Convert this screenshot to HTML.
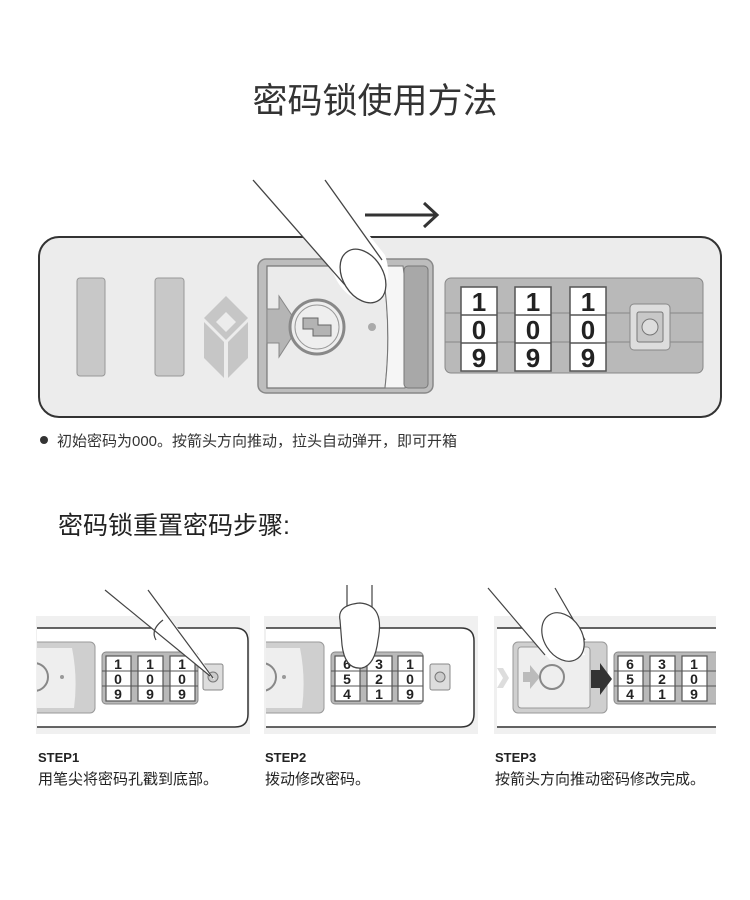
<!DOCTYPE html>
<html><head><meta charset="utf-8"><style>
html,body{margin:0;padding:0;background:#fff;}
svg{display:block}
text{font-family:"Liberation Sans","Noto Sans CJK SC",sans-serif;}
</style></head><body>
<svg width="750" height="900" viewBox="0 0 750 900" xmlns="http://www.w3.org/2000/svg">
<defs>
<g id="wheel">
<rect x="0" y="0" width="36" height="84" fill="#fff" stroke="#555" stroke-width="1.5"/>
<line x1="0" y1="28" x2="36" y2="28" stroke="#555" stroke-width="1.5"/>
<line x1="0" y1="56" x2="36" y2="56" stroke="#555" stroke-width="1.5"/>
</g>
<clipPath id="c1"><rect x="37" y="600" width="215" height="140"/></clipPath>
<clipPath id="c2"><rect x="266" y="600" width="212" height="140"/></clipPath>
<clipPath id="c3"><rect x="497" y="600" width="219" height="140"/></clipPath>
</defs>
<text x="375" y="113" text-anchor="middle" font-size="35" fill="#333">密码锁使用方法</text>

<line x1="365" y1="215" x2="436" y2="215" stroke="#333" stroke-width="3"/>
<polyline points="424,203 437,215 424,227" fill="none" stroke="#333" stroke-width="3"/>

<rect x="39" y="237" width="682" height="180" rx="20" fill="#ececec" stroke="#333" stroke-width="2"/>
<rect x="77" y="278" width="28" height="98" rx="3" fill="#c8c8c8" stroke="#999"/>
<rect x="155" y="278" width="29" height="98" rx="3" fill="#c8c8c8" stroke="#999"/>
<polygon points="226,296 248,318 226,340 204,318" fill="#c6c6c6"/>
<polygon points="226,312 236,322 226,332 216,322" fill="#ececec"/>
<polygon points="204,322 224,342 224,378 204,358" fill="#c6c6c6"/>
<polygon points="248,322 228,342 228,378 248,358" fill="#c6c6c6"/>

<rect x="258" y="259" width="175" height="134" rx="8" fill="#bdbdbd" stroke="#888" stroke-width="1.5"/>
<path d="M267,266 H382 Q392,327 385,388 H267 Z" fill="#ebebeb" stroke="#777" stroke-width="1.2"/>
<path d="M382,266 H403 Q412,327 405,388 H385 Q392,327 382,266 Z" fill="#f6f6f6" stroke="#777" stroke-width="1"/>
<rect x="404" y="266" width="24" height="122" rx="4" fill="#a8a8a8" stroke="#777"/>
<polygon points="267,309 279,309 279,296 299,326 279,357 279,343 267,343" fill="#b5b5b5" stroke="#888"/>
<circle cx="317" cy="327" r="27" fill="#eee" stroke="#888" stroke-width="3"/>
<circle cx="317" cy="327" r="22" fill="none" stroke="#999" stroke-width="1"/>
<path d="M303,318 H318 V325 H331 V336 H313 V329 H303 Z" fill="#b3b3b3" stroke="#666"/>
<circle cx="372" cy="327" r="4" fill="#aaa"/>

<path d="M253,180 L332,270 Q345,305 375,300 Q395,285 385,255 L325,180 Z" fill="#fff"/>
<line x1="253" y1="180" x2="345" y2="285" stroke="#444" stroke-width="1.3"/>
<line x1="325" y1="180" x2="382" y2="260" stroke="#444" stroke-width="1.3"/>
<ellipse cx="363" cy="276" rx="20" ry="29" transform="rotate(-32 363 276)" fill="#fff" stroke="#444" stroke-width="1.3"/>

<rect x="445" y="278" width="258" height="95" rx="6" fill="#b9b9b9" stroke="#888"/>
<line x1="445" y1="313" x2="703" y2="313" stroke="#888"/>
<line x1="445" y1="342" x2="703" y2="342" stroke="#888"/>
<use href="#wheel" x="461" y="287"/>
<use href="#wheel" x="515" y="287"/>
<use href="#wheel" x="570" y="287"/>
<g font-size="26" font-weight="bold" fill="#222" text-anchor="middle">
<text x="479" y="311">1</text><text x="533" y="311">1</text><text x="588" y="311">1</text>
<text x="479" y="339">0</text><text x="533" y="339">0</text><text x="588" y="339">0</text>
<text x="479" y="367">9</text><text x="533" y="367">9</text><text x="588" y="367">9</text>
</g>
<rect x="630" y="304" width="40" height="46" rx="4" fill="#ddd" stroke="#888"/>
<rect x="637" y="312" width="26" height="30" rx="2" fill="#c8c8c8" stroke="#777"/>
<circle cx="650" cy="327" r="8" fill="#ddd" stroke="#777"/>

<circle cx="44" cy="440" r="4" fill="#333"/>
<text x="57" y="446" font-size="15" fill="#333">初始密码为000。按箭头方向推动，拉头自动弹开，即可开箱</text>

<text x="58" y="534" font-size="25" fill="#222">密码锁重置密码步骤:</text>

<rect x="36" y="616" width="214" height="118" fill="#f0f0f0"/>
<rect x="264" y="616" width="214" height="118" fill="#f0f0f0"/>
<rect x="494" y="616" width="222" height="118" fill="#f0f0f0"/>

<g clip-path="url(#c1)">
<path d="M30,628 H235 Q248,628 248,641 V714 Q248,727 235,727 H30 Z" fill="#fff" stroke="#333" stroke-width="1.5"/>
<rect x="20" y="642" width="75" height="71" rx="5" fill="#cfcfcf" stroke="#999"/>
<path d="M20,648 H72 Q78,678 74,708 H20 Z" fill="#eee"/>
<circle cx="34" cy="677" r="14" fill="#eee" stroke="#888" stroke-width="2"/>
<circle cx="62" cy="677" r="2" fill="#999"/>
<rect x="102" y="652" width="96" height="52" rx="4" fill="#b9b9b9" stroke="#888"/>
<rect x="203" y="664" width="20" height="26" rx="2" fill="#ddd" stroke="#888"/>
<circle cx="213" cy="677" r="5" fill="#ccc" stroke="#777"/>
</g>
<g clip-path="url(#c2)">
<path d="M260,628 H461 Q474,628 474,641 V714 Q474,727 461,727 H260 Z" fill="#fff" stroke="#333" stroke-width="1.5"/>
<rect x="250" y="642" width="74" height="71" rx="5" fill="#cfcfcf" stroke="#999"/>
<path d="M250,648 H300 Q306,678 302,708 H250 Z" fill="#eee"/>
<circle cx="262" cy="677" r="14" fill="#eee" stroke="#888" stroke-width="2"/>
<circle cx="284" cy="677" r="2" fill="#999"/>
<rect x="331" y="652" width="92" height="52" rx="4" fill="#b9b9b9" stroke="#888"/>
<rect x="430" y="664" width="20" height="26" rx="2" fill="#ddd" stroke="#888"/>
<circle cx="440" cy="677" r="5" fill="#ccc" stroke="#777"/>
</g>
<g clip-path="url(#c3)">
<line x1="497" y1="628" x2="716" y2="628" stroke="#333" stroke-width="1.5"/>
<line x1="497" y1="727" x2="716" y2="727" stroke="#333" stroke-width="1.5"/>
<rect x="497" y="629" width="219" height="97" fill="#fff"/>
<polygon points="497,668 503,668 509,678 503,688 497,688 503,678" fill="#ddd"/>
<rect x="513" y="642" width="94" height="71" rx="5" fill="#cfcfcf" stroke="#999"/>
<rect x="518" y="647" width="72" height="61" rx="3" fill="#eee" stroke="#999"/>
<polygon points="523,672 530,672 530,665 540,677 530,689 530,682 523,682" fill="#bbb"/>
<circle cx="552" cy="677" r="12" fill="#eee" stroke="#888" stroke-width="2"/>
<polygon points="591,670 600,670 600,663 612,679 600,695 600,688 591,688" fill="#333"/>
<rect x="614" y="652" width="110" height="52" rx="4" fill="#b9b9b9" stroke="#888"/>
</g>

<g stroke="#555" stroke-width="1.2" fill="#fff">
<rect x="106" y="656" width="25" height="45"/><rect x="138" y="656" width="25" height="45"/><rect x="170" y="656" width="25" height="45"/>
<rect x="335" y="656" width="25" height="45"/><rect x="367" y="656" width="25" height="45"/><rect x="398" y="656" width="25" height="45"/>
<rect x="618" y="656" width="25" height="45"/><rect x="650" y="656" width="25" height="45"/><rect x="682" y="656" width="25" height="45"/>
</g>
<g stroke="#555" stroke-width="1">
<line x1="102" y1="671" x2="198" y2="671"/><line x1="102" y1="686" x2="198" y2="686"/>
<line x1="331" y1="671" x2="423" y2="671"/><line x1="331" y1="686" x2="423" y2="686"/>
<line x1="614" y1="671" x2="716" y2="671"/><line x1="614" y1="686" x2="716" y2="686"/>
</g>
<g font-size="14" font-weight="bold" fill="#222" text-anchor="middle">
<text x="118" y="669">1</text><text x="150" y="669">1</text><text x="182" y="669">1</text>
<text x="118" y="684">0</text><text x="150" y="684">0</text><text x="182" y="684">0</text>
<text x="118" y="699">9</text><text x="150" y="699">9</text><text x="182" y="699">9</text>
<text x="347" y="669">6</text><text x="379" y="669">3</text><text x="410" y="669">1</text>
<text x="347" y="684">5</text><text x="379" y="684">2</text><text x="410" y="684">0</text>
<text x="347" y="699">4</text><text x="379" y="699">1</text><text x="410" y="699">9</text>
<text x="630" y="669">6</text><text x="662" y="669">3</text><text x="694" y="669">1</text>
<text x="630" y="684">5</text><text x="662" y="684">2</text><text x="694" y="684">0</text>
<text x="630" y="699">4</text><text x="662" y="699">1</text><text x="694" y="699">9</text>
</g>

<path d="M105,590 L205,672 L215,680 L195,650 L148,590 Z" fill="#fff"/>
<line x1="105" y1="590" x2="210" y2="676" stroke="#444" stroke-width="1.2"/>
<line x1="148" y1="590" x2="213" y2="678" stroke="#444" stroke-width="1.2"/>
<path d="M163,620 Q150,630 156,640" fill="none" stroke="#444" stroke-width="1.2"/>

<rect x="347" y="585" width="25" height="50" fill="#fff"/>
<line x1="347" y1="585" x2="347" y2="635" stroke="#444" stroke-width="1.2"/>
<line x1="372" y1="585" x2="372" y2="635" stroke="#444" stroke-width="1.2"/>
<path d="M340,620 Q337,605 360,603 Q385,605 378,640 Q375,665 362,668 Q345,670 342,645 Z" fill="#fff" stroke="#444" stroke-width="1.2"/>

<path d="M488,588 L550,660 L585,655 L555,588 Z" fill="#fff"/>
<line x1="488" y1="588" x2="545" y2="655" stroke="#444" stroke-width="1.2"/>
<line x1="555" y1="588" x2="585" y2="640" stroke="#444" stroke-width="1.2"/>
<ellipse cx="563" cy="637" rx="19" ry="26" transform="rotate(-32 563 637)" fill="#fff" stroke="#444" stroke-width="1.2"/>

<g font-size="13" font-weight="bold" fill="#222">
<text x="38" y="762">STEP1</text><text x="265" y="762">STEP2</text><text x="495" y="762">STEP3</text>
</g>
<g font-size="15" fill="#222">
<text x="38" y="784">用笔尖将密码孔戳到底部。</text>
<text x="265" y="784">拨动修改密码。</text>
<text x="495" y="784">按箭头方向推动密码修改完成。</text>
</g>
</svg>
</body></html>
